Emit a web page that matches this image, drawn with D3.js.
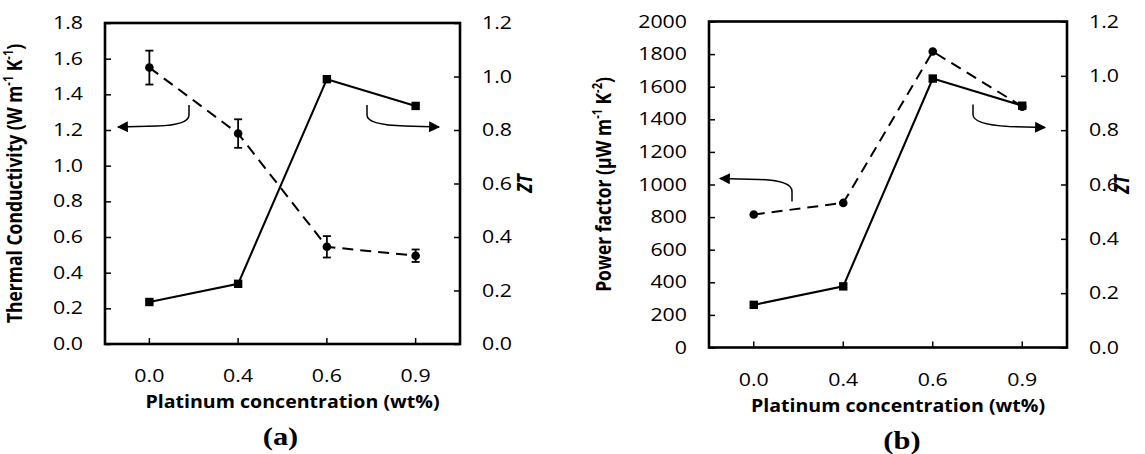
<!DOCTYPE html>
<html>
<head>
<meta charset="utf-8">
<script src="https://cdn.jsdelivr.net/npm/d3@7"></script>
<style>
  body { margin: 0; background: #fff; }
  text { font-family: "Open Sans", sans-serif; fill: #000; }
</style>
</head>
<body>
<div id="chart"></div>
<script>
// categories on the x axis (platinum wt%)
var categories = ["0.0", "0.4", "0.6", "0.9"];

// panel (a)
var thermalCond = [1.55, 1.18, 0.545, 0.495];
var thermalErr = [0.095, 0.08, 0.06, 0.035];
var thermalTicks = [0, 0.2, 0.4, 0.6, 0.8, 1.0, 1.2, 1.4, 1.6, 1.8];

// panel (b)
var powerFactor = [816, 887, 1816, 1478];
var powerTicks = [0, 200, 400, 600, 800, 1000, 1200, 1400, 1600, 1800, 2000];

// ZT, same in both panels
var ztValues = [0.157, 0.225, 0.99, 0.89];
var ztTicks = [0, 0.2, 0.4, 0.6, 0.8, 1.0, 1.2];

var width = 1145, height = 454;
var sx = 1.22; // the source figure's text is a bit wide

var svg = d3.select("#chart").append("svg")
  .attr("width", width)
  .attr("height", height);

var defs = svg.append("defs");
defs.append("marker")
  .attr("id", "head")
  .attr("viewBox", "0 0 10 10")
  .attr("refX", 9).attr("refY", 5)
  .attr("markerWidth", 12).attr("markerHeight", 11)
  .attr("markerUnits", "userSpaceOnUse")
  .attr("orient", "auto")
  .append("path")
  .attr("d", "M0,0 L10,5 L0,10 Z")
  .attr("fill", "#000");

// widen text around its own anchor point
function Stretch(sel, k) {
  k = k || sx;
  sel.each(function () {
    var t = d3.select(this);
    var x = +t.attr("x") || 0, y = +t.attr("y") || 0;
    t.attr("x", 0).attr("y", 0)
      .attr("transform", "translate(" + x + "," + y + ") scale(" + k + ",1)");
  });
}

function BuildPanel(opts) {
  var left = opts.left, top = opts.top, w = opts.w, h = opts.h;

  var g = svg.append("g").attr("transform", "translate(" + left + "," + top + ")");

  var x = d3.scaleBand().domain(categories).range([0, w]);
  var yL = d3.scaleLinear().domain([0, opts.leftMax]).range([h, 0]);
  var yR = d3.scaleLinear().domain([0, 1.2]).range([h, 0]);
  var cx = function (d, i) { return x(categories[i]) + x.bandwidth() / 2; };

  // frame
  g.append("rect")
    .attr("width", w).attr("height", h)
    .attr("fill", "none").attr("stroke", "#000").attr("stroke-width", 2.6);

  // left axis
  var axL = g.append("g").call(d3.axisLeft(yL).tickValues(opts.leftTicks)
    .tickSizeInner(-6).tickSizeOuter(0).tickPadding(22).tickFormat(opts.leftFormat));
  // right axis
  var axR = g.append("g").attr("transform", "translate(" + w + ",0)")
    .call(d3.axisRight(yR).tickValues(ztTicks)
      .tickSizeInner(-6).tickSizeOuter(0).tickPadding(22).tickFormat(d3.format(".1f")));
  // bottom axis
  var axB = g.append("g").attr("transform", "translate(0," + h + ")")
    .call(d3.axisBottom(x).tickSizeInner(-6).tickSizeOuter(0).tickPadding(24));

  [axL, axR, axB].forEach(function (a) {
    a.select(".domain").remove();
    a.selectAll("line").attr("stroke", "#000").attr("stroke-width", 1.5);
    a.selectAll("text").style("font-size", "17.5px").style("font-family", "'Open Sans', sans-serif");
  });
  axB.selectAll("text").attr("dy", "0.8em");
  [axL, axR, axB].forEach(function (a) { Stretch(a.selectAll("text")); });

  // left series, dashed with circles
  var lineL = d3.line().x(cx).y(function (d) { return yL(d); });
  g.append("path")
    .datum(opts.leftValues)
    .attr("d", lineL)
    .attr("fill", "none").attr("stroke", "#000")
    .attr("stroke-width", 2).attr("stroke-dasharray", "11,7");

  if (opts.leftErr) {
    var eb = g.selectAll(".err").data(opts.leftValues).enter().append("g").attr("class", "err");
    eb.append("line")
      .attr("x1", cx).attr("x2", cx)
      .attr("y1", function (d, i) { return yL(d + opts.leftErr[i]); })
      .attr("y2", function (d, i) { return yL(d - opts.leftErr[i]); })
      .attr("stroke", "#000").attr("stroke-width", 1.8);
    [1, -1].forEach(function (s) {
      eb.append("line")
        .attr("x1", function (d, i) { return cx(d, i) - 4; })
        .attr("x2", function (d, i) { return cx(d, i) + 4; })
        .attr("y1", function (d, i) { return yL(d + s * opts.leftErr[i]); })
        .attr("y2", function (d, i) { return yL(d + s * opts.leftErr[i]); })
        .attr("stroke", "#000").attr("stroke-width", 1.8);
    });
  }

  g.selectAll(".dot").data(opts.leftValues).enter().append("circle")
    .attr("cx", cx).attr("cy", function (d) { return yL(d); })
    .attr("r", 4.3).attr("fill", "#000");

  // ZT series, solid with squares
  var lineR = d3.line().x(cx).y(function (d) { return yR(d); });
  g.append("path")
    .datum(ztValues)
    .attr("d", lineR)
    .attr("fill", "none").attr("stroke", "#000").attr("stroke-width", 2.1);

  g.selectAll(".sq").data(ztValues).enter().append("rect")
    .attr("x", function (d, i) { return cx(d, i) - 4.2; })
    .attr("y", function (d) { return yR(d) - 4.2; })
    .attr("width", 8.4).attr("height", 8.4).attr("fill", "#000");

  // annotation arrows
  opts.arrows.forEach(function (p) {
    g.append("path").attr("d", p)
      .attr("fill", "none").attr("stroke", "#000").attr("stroke-width", 1.5)
      .attr("marker-end", "url(#head)");
  });

  // left axis title
  var tl = g.append("text")
    .attr("transform", "translate(" + opts.titleX + "," + (h / 2) + ") scale(" + sx + ",1) rotate(-90)")
    .attr("text-anchor", "middle")
    .style("font-size", "17.5px").style("font-weight", "bold");
  opts.title.forEach(function (t) {
    tl.append("tspan")
      .attr("dy", t.sup ? -7 : (t.back ? 7 : 0))
      .style("font-size", t.sup ? "11px" : null)
      .text(t.s);
  });

  // right axis title
  g.append("text")
    .attr("transform", "translate(" + (w + opts.ztX) + "," + (h / 2) + ") scale(" + sx + ",1) rotate(-90)")
    .attr("text-anchor", "middle")
    .style("font-size", "17.5px").style("font-weight", "bold").style("font-style", "italic")
    .text("ZT");

  // x title
  g.append("text")
    .attr("x", w / 2 + opts.xTitleDx).attr("y", h + opts.xTitleDy)
    .attr("text-anchor", "middle")
    .style("font-size", "17.5px").style("font-weight", "bold")
    .text("Platinum concentration (wt%)")
    .call(Stretch, 1.12);

  // panel letter
  g.append("text")
    .attr("x", w / 2 + opts.letterDx).attr("y", h + opts.xTitleDy + 37)
    .attr("text-anchor", "middle")
    .style("font-family", "'Liberation Serif', serif")
    .style("font-size", "25px").style("font-weight", "bold")
    .text(opts.letter)
    .call(Stretch);
}

BuildPanel({
  left: 105, top: 23, w: 355, h: 321,
  leftMax: 1.8, leftTicks: thermalTicks, leftFormat: d3.format(".1f"),
  leftValues: thermalCond, leftErr: thermalErr,
  titleX: -83, ztX: 72, xTitleDx: 10, xTitleDy: 64, letterDx: -2,
  title: [{ s: "Thermal Conductivity (W m" }, { s: "-1", sup: true }, { s: " K", back: true },
          { s: "-1", sup: true }, { s: ")", back: true }],
  arrows: [
    "M84,82 L84,92 Q84,102 52,103 L13,104",
    "M262,82 L262,92 Q262,102 300,103 L334,104"
  ],
  letter: "(a)"
});

BuildPanel({
  left: 709, top: 21.5, w: 358, h: 326,
  leftMax: 2000, leftTicks: powerTicks, leftFormat: d3.format("d"),
  leftValues: powerFactor, leftErr: null,
  titleX: -98, ztX: 62, xTitleDx: 10, xTitleDy: 64, letterDx: 14,
  title: [{ s: "Power factor (\u03bcW m" }, { s: "-1", sup: true }, { s: " K", back: true },
          { s: "-2", sup: true }, { s: ")", back: true }],
  arrows: [
    "M83,180 L83,170 Q83,159 50,158 L11,157",
    "M264,83 L264,93 Q264,103 300,105 L336,106"
  ],
  letter: "(b)"
});
</script>
</body>
</html>
